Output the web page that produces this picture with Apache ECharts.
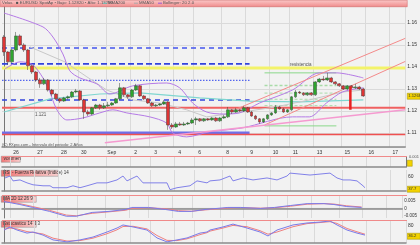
<!DOCTYPE html>
<html><head><meta charset="utf-8">
<script src="https://cdn.jsdelivr.net/npm/echarts@6/dist/echarts.min.js"></script>
<style>html,body{margin:0;padding:0;background:#f2f2f2}#c{width:420px;height:245px}</style>
</head><body><div id="c"></div>
<script>
// ---------- DATA ----------
const tickIndex  = [3, 9, 15, 20, 27, 33, 38, 44, 49, 56, 62, 68, 73, 79, 86, 92, 98];
const tickLabels = ['26','27','28','30','Sep','2','3','4','6','8','9','10','11','13','15','16','17'];
const slotCount = 101;

const opens  = [1.1536,1.1468,1.1423,1.1477,1.1541,1.1500,1.1477,1.1405,1.1377,1.1341,1.1323,1.1341,1.1295,1.1277,1.1255,1.1245,1.1259,1.1264,1.1286,1.1291,1.1250,1.1195,1.1186,1.1214,1.1227,1.1214,1.1223,1.1227,1.1236,1.1255,1.1305,1.1273,1.1264,1.1295,1.1314,1.1268,1.1255,1.1236,1.1223,1.1227,1.1232,1.1241,1.1136,1.1127,1.1141,1.1136,1.1141,1.1145,1.1159,1.1164,1.1155,1.1164,1.1159,1.1168,1.1155,1.1168,1.1173,1.1205,1.1195,1.1205,1.1200,1.1214,1.1195,1.1177,1.1164,1.1150,1.1164,1.1182,1.1191,1.1218,1.1209,1.1195,1.1205,1.1264,1.1286,1.1282,1.1273,1.1282,1.1273,1.1332,1.1345,1.1341,1.1350,1.1332,1.1323,1.1314,1.1300,1.1314,1.1305,1.1309,1.1300];
const closes = [1.1468,1.1423,1.1477,1.1541,1.1500,1.1477,1.1405,1.1377,1.1341,1.1323,1.1341,1.1295,1.1277,1.1255,1.1245,1.1259,1.1264,1.1286,1.1291,1.1250,1.1195,1.1186,1.1214,1.1227,1.1214,1.1223,1.1227,1.1236,1.1255,1.1305,1.1273,1.1264,1.1295,1.1314,1.1268,1.1255,1.1236,1.1223,1.1227,1.1232,1.1241,1.1136,1.1127,1.1141,1.1136,1.1141,1.1145,1.1159,1.1164,1.1155,1.1164,1.1159,1.1168,1.1155,1.1168,1.1173,1.1205,1.1195,1.1205,1.1200,1.1214,1.1195,1.1177,1.1164,1.1150,1.1164,1.1182,1.1191,1.1218,1.1209,1.1195,1.1205,1.1264,1.1286,1.1282,1.1273,1.1282,1.1273,1.1332,1.1345,1.1341,1.1350,1.1332,1.1323,1.1314,1.1300,1.1314,1.1305,1.1309,1.1300,1.1268];
const lows   = [1.1450,1.1409,1.1418,1.1470,1.1495,1.1468,1.1386,1.1368,1.1332,1.1305,1.1318,1.1288,1.1268,1.1250,1.1236,1.1241,1.1252,1.1259,1.1280,1.1245,1.1164,1.1177,1.1180,1.1209,1.1205,1.1209,1.1218,1.1223,1.1232,1.1250,1.1264,1.1255,1.1259,1.1291,1.1264,1.1250,1.1232,1.1218,1.1218,1.1223,1.1227,1.1114,1.1118,1.1123,1.1132,1.1132,1.1136,1.1141,1.1136,1.1150,1.1150,1.1155,1.1155,1.1150,1.1150,1.1164,1.1168,1.1186,1.1191,1.1195,1.1195,1.1191,1.1173,1.1159,1.1141,1.1145,1.1159,1.1177,1.1186,1.1205,1.1191,1.1191,1.1200,1.1259,1.1277,1.1268,1.1268,1.1268,1.1268,1.1327,1.1336,1.1336,1.1327,1.1318,1.1309,1.1295,1.1295,1.1300,1.1300,1.1295,1.1264];
const highs  = [1.1545,1.1472,1.1482,1.1559,1.1548,1.1508,1.1482,1.1410,1.1382,1.1350,1.1350,1.1345,1.1300,1.1282,1.1259,1.1264,1.1270,1.1291,1.1300,1.1295,1.1255,1.1205,1.1218,1.1232,1.1232,1.1236,1.1241,1.1241,1.1259,1.1327,1.1309,1.1277,1.1300,1.1323,1.1318,1.1273,1.1259,1.1241,1.1232,1.1236,1.1250,1.1245,1.1145,1.1150,1.1150,1.1150,1.1150,1.1168,1.1173,1.1168,1.1168,1.1168,1.1173,1.1173,1.1173,1.1182,1.1218,1.1209,1.1214,1.1209,1.1223,1.1218,1.1200,1.1182,1.1168,1.1168,1.1186,1.1195,1.1227,1.1223,1.1214,1.1209,1.1268,1.1295,1.1291,1.1286,1.1286,1.1286,1.1336,1.1350,1.1359,1.1373,1.1355,1.1336,1.1327,1.1318,1.1318,1.1318,1.1323,1.1314,1.1305];

// moving averages / bands, read as [candle index, price]
const mma200 = [[0,1.1195],[11.5,1.1255],[24,1.1277],[34,1.1282],[49,1.1259],[61.5,1.1245],[74,1.1241],[90,1.1250]];
const mma50  = [[6.5,1.1491],[15.25,1.1423],[20.75,1.1355],[25.75,1.1295],[32.25,1.1250],[39,1.1236],[45.75,1.1205],[50.75,1.1173],[59.75,1.1195],[68,1.1218],[76.5,1.1250],[84.75,1.1286],[90,1.1295]];
const bollUp = [[0,1.1645],[9.75,1.1582],[12.25,1.1536],[14.75,1.1459],[16.5,1.1382],[19,1.1350],[23.25,1.1323],[26.5,1.1277],[32.25,1.1314],[40.75,1.1327],[44,1.1305],[47.25,1.1236],[50.75,1.1195],[55,1.1186],[59,1.1191],[64,1.1236],[72.25,1.1295],[79,1.1373],[83.25,1.1373],[90,1.1350]];
const bollLo = [[0.25,1.1391],[4,1.1423],[7.25,1.1409],[10.75,1.1318],[13.25,1.1205],[15.75,1.1159],[19.75,1.1168],[24,1.1191],[27.25,1.1205],[30.75,1.1191],[36.5,1.1173],[40.75,1.1145],[42.25,1.1100],[45.75,1.1082],[51.5,1.1105],[59.75,1.1123],[72.25,1.1173],[76.5,1.1173],[80.75,1.1236],[84.75,1.1286],[90,1.1305]];

// drawn levels
const blueLevels  = [1.1486, 1.1414, 1.1339, 1.1250, 1.1100];
const blueEnd     = 61.5;
const yellowLevel = 1.1395;
const redLevels   = [1.1215, 1.1093];
const fibLevels   = [1.1373, 1.1316, 1.1281, 1.1253, 1.1224, 1.1132];
const fibStart = 65.25, fibEnd = 83.25;
const channelUpper = [[57.75,1.1205],[100.5,1.1530]];
const channelLower = [[65.25,1.1136],[100.5,1.1425]];
const pinkTrend    = [[25.25,1.1055],[100.5,1.1205]];
const redSpike     = [[86.75,1.1309],[86.75,1.1205]];
const lastPrice = '1.12680';

// indicators, read as [candle index, value]
const rsi = [[0.25,57.8],[1.5,62.2],[2.25,51.1],[4,53.3],[5.75,46.6],[7.25,42.2],[9.75,39.9],[11.5,39.9],[12.25,35.5],[15.75,35.5],[17.25,39.9],[19,35.5],[20.75,39.9],[23.25,46.6],[25.75,46.6],[28.25,53.3],[29.75,62.2],[30.75,51.1],[32.25,57.8],[33.25,62.2],[34.75,46.6],[38.25,46.6],[40.75,46.6],[41.5,31.0],[43.25,35.5],[46.5,39.9],[48.25,51.1],[50.75,46.6],[51.5,51.1],[54,53.3],[56.5,62.2],[57.25,51.1],[59.75,57.8],[62.25,53.3],[65.75,57.8],[68.25,53.3],[70.75,62.2],[71.5,68.9],[76.5,64.5],[81.5,68.9],[83.25,57.8],[84.75,53.3],[86.5,53.3],[88.25,51.1],[89.75,39.9],[90.25,35.5]];
const rsiLast = '37.7';
const macd = [[0,0.0047],[1.5,0.0040],[4,0.0027],[7.25,0.0007],[11.5,-0.0020],[15.75,-0.0053],[18.25,-0.0053],[22.25,-0.0027],[26.5,-0.0020],[30.75,-0.0007],[32.25,0.0007],[36.5,0.0007],[40.75,-0.0007],[44,-0.0020],[47.25,-0.0020],[50.75,-0.0007],[56.5,0.0007],[59.75,0.0007],[64.75,0.0],[68.25,0.0007],[72.25,0.0020],[76.5,0.0033],[80.75,0.0033],[83.25,0.0027],[86.5,0.0013],[90.25,0.0007]];
const macdSignal = [[0,0.0050],[1.5,0.0045],[4,0.0033],[7.25,0.0013],[11.5,-0.0013],[15.75,-0.0045],[18.25,-0.0050],[22.25,-0.0033],[26.5,-0.0023],[30.75,-0.0012],[32.25,0.0],[36.5,0.0005],[40.75,-0.0002],[44,-0.0015],[47.25,-0.0019],[50.75,-0.0010],[56.5,0.0003],[59.75,0.0006],[64.75,0.0002],[68.25,0.0005],[72.25,0.0015],[76.5,0.0029],[80.75,0.0033],[83.25,0.0030],[86.5,0.0018],[90.25,0.0010]];
const stochK = [[0,59],[1.5,73],[3.25,59],[5.75,45],[7.25,50],[9.75,36],[12.25,14],[15.75,5],[19,14],[22.25,27],[25.75,50],[28.25,68],[29.75,82],[32.25,73],[35.75,59],[38.25,23],[40.75,5],[43.25,14],[45.75,23],[49,45],[50.75,50],[51.5,59],[54.75,73],[57.25,86],[60.75,68],[64,50],[66,32],[68.25,59],[72.25,82],[75.75,91],[79,95],[81.5,100],[83.25,82],[85.75,59],[88.25,45],[90.25,36]];
const stochD = [[0,62],[1.5,68],[3.25,64],[5.75,52],[7.25,48],[9.75,41],[12.25,22],[15.75,9],[19,11],[22.25,22],[25.75,42],[28.25,60],[29.75,75],[32.25,76],[35.75,64],[38.25,34],[40.75,12],[43.25,11],[45.75,19],[49,38],[50.75,47],[51.5,54],[54.75,68],[57.25,80],[60.75,74],[64,56],[66,40],[68.25,50],[72.25,74],[75.75,88],[79,93],[81.5,97],[83.25,89],[85.75,66],[88.25,51],[90.25,40]];
const stochLast = '36.2';

// ---------- BUILD ----------
const categories = Array.from({length: slotCount}, (_, i) => {
  const k = tickIndex.indexOf(i); return k >= 0 ? tickLabels[k] : '';
});
const candles = opens.map((o, i) => [o, closes[i], lows[i], highs[i]]);
const isTick = (idx) => tickIndex.indexOf(idx) >= 0;
const FONT = 'Liberation Sans';
const GRIDC = '#dadada';

const L = 2, R = 14;
const grids = [
  {left: L, right: R, top: 6, height: 141},
  {left: L, right: R, top: 157, height: 10},
  {left: L, right: R, top: 170, height: 21},
  {left: L, right: R, top: 196, height: 22},
  {left: L, right: R, top: 221, height: 22}
];
const catAxis = (g, showLabel) => ({
  type: 'category', gridIndex: g, data: categories, boundaryGap: true,
  axisLine: {show: true, lineStyle: {color: '#8a8a8a', width: g === 0 ? 1.5 : 1.5}},
  axisTick: {show: false},
  axisLabel: {show: showLabel, interval: (i, v) => v !== '', fontSize: 5, color: '#333', fontFamily: FONT, margin: 3},
  splitLine: {show: true, interval: (i) => isTick(i + 1), lineStyle: {color: GRIDC, width: 1}}
});
const valX = (g) => ({type: 'value', gridIndex: g, min: -0.5, max: slotCount - 0.5, show: false});

const xAxis = [catAxis(0, true), valX(0), catAxis(1, false), catAxis(2, false), valX(2), catAxis(3, false), valX(3), catAxis(4, false), valX(4)];
const baseLabel = {fontSize: 5, color: '#333', fontFamily: FONT, margin: 2, showMinLabel: false, showMaxLabel: false};
const yCommon = {position: 'right', axisTick: {show: false},
  axisLine: {show: true, lineStyle: {color: '#777', width: 1}}};
const yAxis = [
  Object.assign({}, yCommon, {type: 'value', gridIndex: 0, min: 1.1036, max: 1.1677, splitNumber: 6,
    axisLabel: Object.assign({}, baseLabel, {formatter: v => v.toFixed(2)}),
    splitLine: {show: true, lineStyle: {color: GRIDC}}}),
  Object.assign({}, yCommon, {type: 'value', gridIndex: 1, min: 0, max: 1, axisLabel: {show: false}, splitLine: {show: false}}),
  Object.assign({}, yCommon, {type: 'value', gridIndex: 2, min: 28, max: 76, splitNumber: 5,
    axisLabel: Object.assign({}, baseLabel, {formatter: v => (v === 60 ? '60' : '')}),
    splitLine: {show: false}}),
  Object.assign({}, yCommon, {type: 'value', gridIndex: 3, min: -0.0065, max: 0.0085, splitNumber: 3,
    axisLabel: Object.assign({}, baseLabel, {fontSize: 4.5, formatter: v => Math.abs(v) < 1e-9 ? '0' : v.toFixed(3)}),
    splitLine: {show: false}}),
  Object.assign({}, yCommon, {type: 'value', gridIndex: 4, min: 0, max: 100, splitNumber: 5,
    axisLabel: Object.assign({}, baseLabel, {formatter: v => (v === 80 ? '80' : '')}),
    splitLine: {show: false}})
];

const seg = (data, color, width, type, xi, yi, z) => ({
  type: 'line', xAxisIndex: xi, yAxisIndex: yi, data, symbol: 'none', silent: true, z: z || 2,
  lineStyle: {color, width, type: type || 'solid'}, animation: false
});
const hline = (p, a, b, color, width, type, z) => seg([[a, p], [b, p]], color, width, type, 1, 0, z);

const series = [];
series.push(hline(blueLevels[0], -0.5, blueEnd, '#4455ee', 1.3, [5, 4]));
series.push(hline(blueLevels[1], -0.5, blueEnd, '#3344dd', 1.6, [6, 3]));
series.push(hline(yellowLevel, -0.5, slotCount - 0.5, '#f3f36a', 3));
series.push(hline(blueLevels[2], -0.5, blueEnd, '#5566ee', 1.2, [1.5, 1.5]));
series.push(hline(blueLevels[3], -0.5, blueEnd, '#3344dd', 1.4, [5, 4]));
series.push(hline(redLevels[0], -0.5, slotCount - 0.5, '#f06060', 2));
series.push(hline(blueLevels[4], -0.5, blueEnd, '#6f6fe8', 3));
series.push(hline(redLevels[1], -0.5, slotCount - 0.5, '#f05050', 1.5));
fibLevels.forEach((p, k) => {
  const solid = (k === 0 || k === fibLevels.length - 1);
  series.push(hline(p, fibStart, fibEnd, solid ? '#8ad88a' : '#a8dca8', k === 1 ? 1.5 : 1, solid ? 'solid' : [3, 2]));
});
series.push(seg(mma200, '#7fd6d0', 1.2, 'solid', 1, 0));
series.push(seg(mma50, '#c8c8c8', 1, 'solid', 1, 0));
series.push(Object.assign(seg(bollUp, '#b57ae6', 1, 'solid', 1, 0), {smooth: 0.3}));
series.push(Object.assign(seg(bollLo, '#b57ae6', 1, 'solid', 1, 0), {smooth: 0.3}));
series.push(seg(channelUpper, '#f48a8a', 1, 'solid', 1, 0));
series.push(seg(channelLower, '#f48a8a', 1, 'solid', 1, 0));
series.push(seg(pinkTrend, '#f59ad0', 1.5, 'solid', 1, 0));
series.push({
  type: 'candlestick', xAxisIndex: 0, yAxisIndex: 0, data: candles, barWidth: 3.4, z: 3, animation: false,
  itemStyle: {color: '#2ea52e', color0: '#de3535', borderColor: '#3d4a3d', borderColor0: '#4a3d3d', borderWidth: 0.5}
});
series.push(seg(redSpike, '#e82020', 2.5, 'solid', 1, 0, 4));
series.push(seg(rsi, '#8080e8', 1, 'solid', 4, 2));
series.push(seg([[-0.5, 0], [slotCount - 0.5, 0]], '#999', 0.8, 'solid', 6, 3));
series.push(seg(macdSignal, '#ee8080', 1, 'solid', 6, 3));
series.push(seg(macd, '#7a7ae8', 1, 'solid', 6, 3));
series.push(seg(stochD, '#ee8080', 1, 'solid', 8, 4));
series.push(seg(stochK, '#7a7ae8', 1, 'solid', 8, 4));

const labelBox = (x, y, w, text) => ({
  type: 'group', left: x, top: y, z: 50, children: [
    {type: 'rect', shape: {x: 0, y: 0, width: w, height: 6},
     style: {fill: new echarts.graphic.LinearGradient(0, 0, 1, 0, [{offset: 0, color: '#f07474'}, {offset: 1, color: '#fbd0d0'}]), stroke: '#888', lineWidth: 0.5}},
    {type: 'text', x: 2, y: 3, style: {text, fontSize: 4.5, fill: '#333', fontFamily: FONT, verticalAlign: 'middle'}}
  ]
});
const yellowBox = (y, text) => ({
  type: 'group', left: 407, top: y, z: 50, children: [
    {type: 'rect', shape: {x: 0, y: 0, width: 13, height: 6}, style: {fill: '#f2d200', stroke: '#9a8a00', lineWidth: 0.5}},
    {type: 'text', x: 1, y: 3, style: {text, fontSize: 4.2, fill: '#333', fontFamily: FONT, verticalAlign: 'middle'}}
  ]
});
const txt = (x, y, text, size) => ({type: 'text', left: x, top: y, z: 50, style: {text, fontSize: size || 4.5, fill: '#555', fontFamily: FONT}});
const topLine = (y) => ({type: 'line', z: 45, shape: {x1: 2, y1: y, x2: 407, y2: y}, style: {stroke: '#f08a8a', lineWidth: 1}});

const graphic = [
  {type: 'rect', left: 0, top: 0, z: 40, shape: {width: 407, height: 6.5},
   style: {fill: new echarts.graphic.LinearGradient(0, 0, 0, 1, [{offset: 0, color: '#fbc8c8'}, {offset: 1, color: '#ef8a8a'}]), stroke: '#d06060', lineWidth: 0.5}},
  txt(2, 1.3, 'Velas', 4.3),
  txt(16, 1.3, '\u25a0 EURUSD Spot', 4.3),
  txt(48, 1.3, 'Ap \u2022 Bajo: 1.12820 \u2022 Alto: 1.13290', 4.3),
  {type: 'line', z: 50, shape: {x1: 103, y1: 3.2, x2: 107, y2: 3.2}, style: {stroke: '#5fc8c0', lineWidth: 1}},
  txt(108, 1.3, 'MMA200', 4.3),
  {type: 'line', z: 50, shape: {x1: 134, y1: 3.2, x2: 138, y2: 3.2}, style: {stroke: '#aaa', lineWidth: 1}},
  txt(139, 1.3, 'MMA50', 4.3),
  {type: 'line', z: 50, shape: {x1: 158, y1: 3.2, x2: 162, y2: 3.2}, style: {stroke: '#9a5ad6', lineWidth: 1}},
  txt(163, 1.3, 'Bollinger: 20 2.0', 4.3),
  txt(290, 62, 'resistencia', 4.5),
  txt(35, 112, '1.121', 4.5),
  txt(2, 143, '(C) FXpro.com - Intervalo del periodo: 2 A\u00f1os', 4),
  topLine(156.5), topLine(195.5), topLine(220.5),
  yellowBox(93, lastPrice),
  labelBox(1, 156, 19, 'Volumen'),
  labelBox(1, 170, 57, 'RSI - Fuerza Relativa (Indice) 14'),
  labelBox(1, 196, 35, 'MACD 12 26 9'),
  labelBox(1, 221, 35, 'Estocastico 14 3 3'),
  yellowBox(186, rsiLast),
  yellowBox(233, stochLast),
  txt(409, 155, '0.001', 4),
  {type: 'rect', left: 407, top: 160, z: 50, shape: {width: 5, height: 6}, style: {fill: '#f2d200', stroke: '#9a8a00', lineWidth: 0.5}}
];

const chart = echarts.init(document.getElementById('c'), null, {renderer: 'canvas'});
chart.setOption({
  animation: false, backgroundColor: '#f2f2f2',
  grid: grids, xAxis, yAxis, series, graphic
});
</script></body></html>
